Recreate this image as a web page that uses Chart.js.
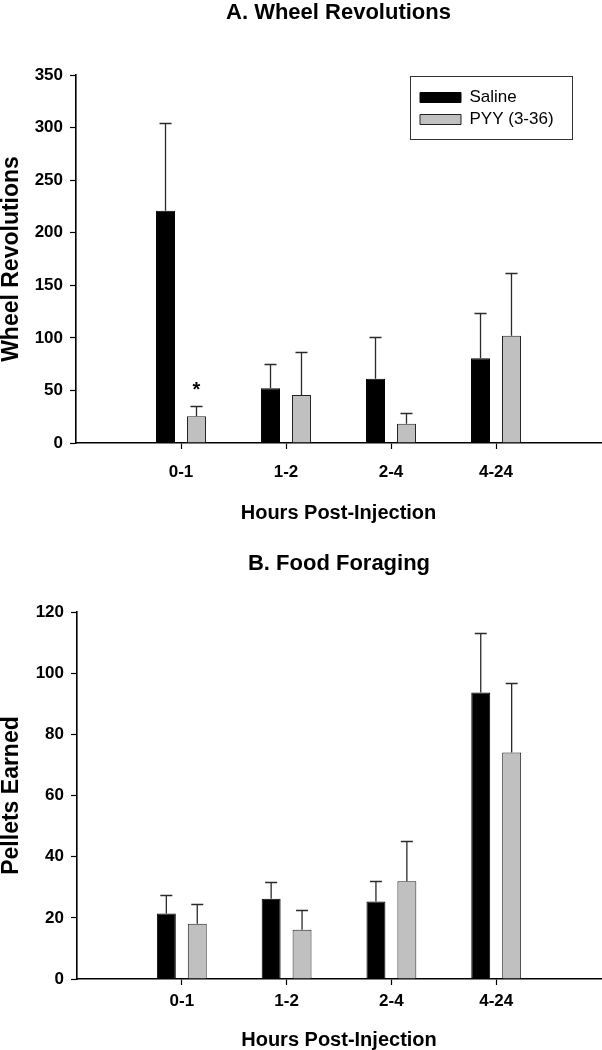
<!DOCTYPE html>
<html><head><meta charset="utf-8">
<script src="https://cdn.jsdelivr.net/npm/chart.js@4"></script>
<style>
html,body{margin:0;padding:0;background:#fff;overflow:hidden;}
#wrap{position:relative;width:602px;height:1050px;background:#fff;}
canvas{position:absolute;left:0;}
</style></head><body>
<div id="wrap">
<canvas id="c1" width="602" height="530" style="top:0px"></canvas>
<canvas id="c2" width="602" height="520" style="top:530px"></canvas>
</div>
<script>
// ---- data ----
const categories = ['0-1', '1-2', '2-4', '4-24'];
const seriesNames = ['Saline', 'PYY (3-36)'];

const wheelSaline    = [221, 52, 61, 80.5];
const wheelSalineErr = [83, 23, 39.6, 43];
const wheelPyy       = [25.4, 45.7, 18.4, 102];
const wheelPyyErr    = [10, 40.6, 10, 60];
const wheelTicks     = [0, 50, 100, 150, 200, 250, 300, 350];

const foodSaline     = [21.4, 26.2, 25.3, 93.7];
const foodSalineErr  = [6, 5.5, 6.6, 19.3];
const foodPyy        = [18.1, 16.1, 32.0, 74.1];
const foodPyyErr     = [6.5, 6.6, 13.2, 22.7];
const foodTicks      = [0, 20, 40, 60, 80, 100, 120];

const wheelStars = [{ category: '0-1', series: 1, text: '*' }];

// ---- rendering ----
const FF = 'Arial, "Liberation Sans", Helvetica, sans-serif';
Chart.defaults.font.family = FF;
Chart.defaults.color = '#000';

const labels = [''].concat(categories, ['']);
const pad = arr => [null].concat(arr, [null]);

const errorBars = {
  id: 'errorBars',
  afterDatasetsDraw(chart) {
    const ctx = chart.ctx, y = chart.scales.y;
    ctx.save();
    ctx.strokeStyle = '#2a2a2a';
    ctx.lineWidth = 1.3;
    chart.data.datasets.forEach((ds, d) => {
      const meta = chart.getDatasetMeta(d);
      meta.data.forEach((el, i) => {
        const v = ds.data[i], e = ds.errors[i];
        if (v == null || e == null) return;
        const yt = Math.round(y.getPixelForValue(v + e)) + 0.5;
        ctx.beginPath();
        ctx.moveTo(el.x, el.y);
        ctx.lineTo(el.x, yt);
        ctx.moveTo(el.x - 6, yt);
        ctx.lineTo(el.x + 6, yt);
        ctx.stroke();
      });
    });
    const stars = chart.options.plugins.stars || [];
    ctx.fillStyle = '#000';
    ctx.font = 'bold 20px ' + FF;
    ctx.textAlign = 'center';
    ctx.textBaseline = 'middle';
    stars.forEach(s => {
      const i = chart.data.labels.indexOf(s.category);
      const ds = chart.data.datasets[s.series];
      const el = chart.getDatasetMeta(s.series).data[i];
      const yt = y.getPixelForValue(ds.data[i] + ds.errors[i]);
      ctx.fillText(s.text, el.x, yt - 15);
    });
    ctx.restore();
  }
};

const legendPlace = {
  id: 'legendPlace',
  afterLayout(chart) {
    const lg = chart.legend;
    if (!lg || !lg.options.display) return;
    const ca = chart.chartArea;
    const p = lg.options.labels.padding;
    const bw = 162, bh = 63;
    const bx = ca.right - 29 - bw, by = ca.top + 1;
    lg._frame = { x: bx, y: by, w: bw, h: bh };
    lg.left = bx + 10 - p;
    lg.top = by + 13 - p;
    lg.right = bx + bw;
    lg.bottom = by + 300;
    lg.width = lg.right - lg.left;
    lg.height = lg.bottom - lg.top;
  },
  afterDraw(chart) {
    const lg = chart.legend;
    if (!lg || !lg.options.display || !lg._frame) return;
    const f = lg._frame, ctx = chart.ctx;
    ctx.save();
    ctx.strokeStyle = '#333';
    ctx.lineWidth = 1;
    ctx.strokeRect(Math.round(f.x) + 0.5, Math.round(f.y) + 0.5, f.w, f.h);
    ctx.restore();
  }
};

function makeChart(id, cfg) {
  const tickArr = cfg.ticks;
  return new Chart(document.getElementById(id), {
    type: 'bar',
    data: {
      labels: labels,
      datasets: [
        { label: seriesNames[0], data: pad(cfg.s1), errors: pad(cfg.e1),
          backgroundColor: '#000', borderColor: '#000', borderWidth: 1,
          categoryPercentage: 0.59, barPercentage: 0.613 },
        { label: seriesNames[1], data: pad(cfg.s2), errors: pad(cfg.e2),
          backgroundColor: '#c0c0c0', borderColor: '#222', borderWidth: 1,
          categoryPercentage: 0.59, barPercentage: 0.613 }
      ]
    },
    options: {
      responsive: false,
      animation: false,
      devicePixelRatio: 1,
      layout: { padding: { left: 0, right: 1, top: 0, bottom: 0 } },
      plugins: {
        title: { display: true, text: cfg.title, color: '#000', fullSize: false,
          font: { size: 22, weight: 'bold', family: FF, lineHeight: 1.2 },
          padding: cfg.titlePad },
        legend: cfg.legend ? {
          display: true, position: 'chartArea', align: 'start',
          labels: { boxWidth: 41, boxHeight: 10, padding: 5, color: '#000',
            font: { size: 17, family: FF } }
        } : { display: false },
        tooltip: { enabled: false },
        stars: cfg.stars || []
      },
      scales: {
        x: {
          type: 'category', offset: false,
          afterFit: s => { s.paddingRight = 0; s.paddingLeft = 0; },
          grid: { display: true, offset: false, drawOnChartArea: false, drawTicks: true, tickLength: 6,
            tickWidth: 1.2,
            tickColor: c => (c.index === 0 || c.index === labels.length - 1) ? 'rgba(0,0,0,0)' : '#000' },
          border: { display: true, color: '#000', width: 1.6 },
          ticks: { color: '#000', padding: cfg.xTickPad, maxRotation: 0, autoSkip: false,
            font: { size: 17, weight: 'bold', family: FF, lineHeight: 1.2 } },
          title: { display: true, text: 'Hours Post-Injection', color: '#000',
            font: { size: 20, weight: 'bold', family: FF, lineHeight: 1.0 },
            padding: cfg.xTitlePad }
        },
        y: {
          min: tickArr[0], max: tickArr[tickArr.length - 1],
          afterFit: s => { s.width = cfg.yWidth; },
          grid: { display: true, drawOnChartArea: false, drawTicks: true, tickLength: 6,
            tickWidth: 1.2, tickColor: '#000' },
          border: { display: true, color: '#000', width: 1.6 },
          ticks: { color: '#000', padding: 7, stepSize: tickArr[1] - tickArr[0],
            font: { size: 17, weight: 'bold', family: FF, lineHeight: 1.2 } },
          title: { display: true, text: cfg.yTitle, color: '#000',
            font: { size: 23, weight: 'bold', family: FF, lineHeight: 1.0 },
            padding: { top: 0, bottom: 0 } }
        }
      }
    },
    plugins: [errorBars, legendPlace]
  });
}

makeChart('c1', {
  title: 'A. Wheel Revolutions', yTitle: 'Wheel Revolutions',
  s1: wheelSaline, e1: wheelSalineErr, s2: wheelPyy, e2: wheelPyyErr,
  ticks: wheelTicks, legend: true, stars: wheelStars,
  titlePad: { top: 0, bottom: 48.6 },
  xTickPad: 12.8, xTitlePad: { top: 8, bottom: 7 }, yWidth: 76
});

makeChart('c2', {
  title: 'B. Food Foraging', yTitle: 'Pellets Earned',
  s1: foodSaline, e1: foodSalineErr, s2: foodPyy, e2: foodPyyErr,
  ticks: foodTicks, legend: false,
  titlePad: { top: 20.4, bottom: 35.2 },
  xTickPad: 6.3, xTitlePad: { top: 12, bottom: 0 }, yWidth: 77
});
</script>
</body></html>
